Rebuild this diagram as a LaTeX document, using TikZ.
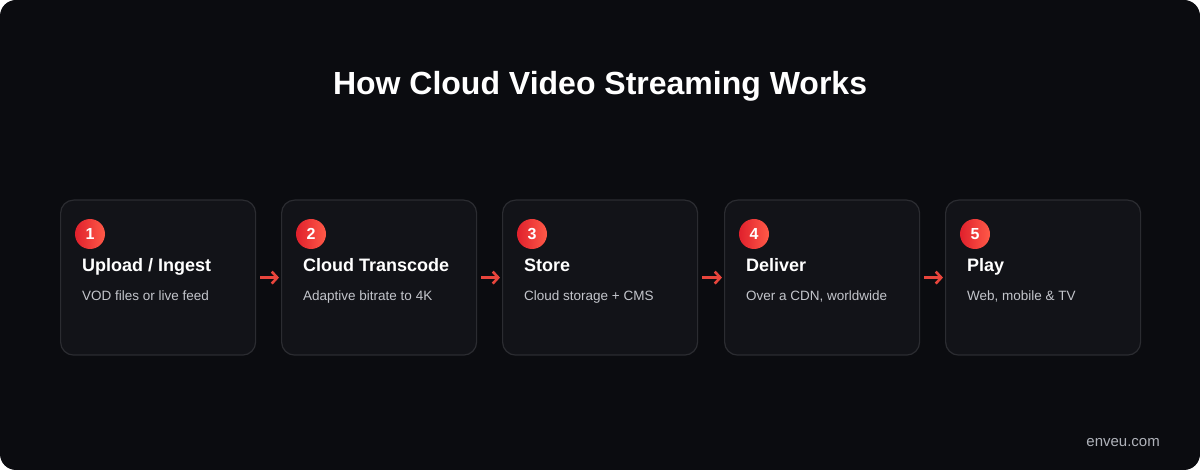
\documentclass[tikz,border=0pt]{standalone}
\usepackage{fontspec}
\setmainfont{Liberation Sans}
\usetikzlibrary{arrows.meta}
\definecolor{pagebg}{HTML}{0B0C10}
\definecolor{boxfill}{HTML}{121318}
\definecolor{boxline}{HTML}{2B2C31}
\definecolor{badgeleft}{HTML}{E0202C}
\definecolor{badgeright}{HTML}{FF5A48}
\definecolor{arrowred}{HTML}{E8453C}
\definecolor{desctext}{HTML}{C3C5CB}
\definecolor{foottext}{HTML}{B0B3BA}

\begin{document}
\begin{tikzpicture}[x=1pt,y=-1pt]
\tikzstyle{every node}+=[inner sep=0pt]
\tikzstyle{box}=[draw=boxline, fill=boxfill, line width=1.2pt, rounded corners=13pt, minimum width=195pt, minimum height=155pt, anchor=north west]
\tikzstyle{badge}=[circle, minimum size=30pt, left color=badgeleft, right color=badgeright, text=white, font=\fontsize{16}{16}\selectfont\bfseries]
\tikzstyle{steptitle}=[anchor=base west, text=white, font=\fontsize{18}{18}\selectfont\bfseries]
\tikzstyle{stepdesc}=[anchor=base west, text=desctext, font=\fontsize{13.5}{13.5}\selectfont]
\tikzstyle{flowarrow}=[arrowred, line width=2.6pt, shorten <=4pt, shorten >=2pt, -{Straight Barb[length=5.5pt,width=12pt]}]
\useasboundingbox (0,0) rectangle (1200,470);
\fill [white] (0,0) rectangle (1200,470);
\fill [pagebg, rounded corners=16pt] (0,0) rectangle (1200,470);
\node [anchor=base, text=white, font=\fontsize{32}{32}\selectfont\bfseries] (heading) at (600,95) {How Cloud Video Streaming Works};
% step boxes
\node [box] (box1) at (60,199.5) {};
\node [box] (box2) at (281,199.5) {};
\node [box] (box3) at (502,199.5) {};
\node [box] (box4) at (724,199.5) {};
\node [box] (box5) at (945,199.5) {};
% badges
\node [badge] (badge1) at (90,234) {1};
\node [badge] (badge2) at (311,234) {2};
\node [badge] (badge3) at (532,234) {3};
\node [badge] (badge4) at (754,234) {4};
\node [badge] (badge5) at (975,234) {5};
% texts
\node [steptitle] (title1) at (82,272) {Upload / Ingest};
\node [stepdesc] (desc1) at (82,301) {VOD files or live feed};
\node [steptitle] (title2) at (303,272) {Cloud Transcode};
\node [stepdesc] (desc2) at (303,301) {Adaptive bitrate to 4K};
\node [steptitle] (title3) at (524,272) {Store};
\node [stepdesc] (desc3) at (524,301) {Cloud storage + CMS};
\node [steptitle] (title4) at (746,272) {Deliver};
\node [stepdesc] (desc4) at (746,301) {Over a CDN, worldwide};
\node [steptitle] (title5) at (967,272) {Play};
\node [stepdesc] (desc5) at (967,301) {Web, mobile \& TV};
% arrows
\draw [flowarrow] (box1.east) -- (box2.west);
\draw [flowarrow] (box2.east) -- (box3.west);
\draw [flowarrow] (box3.east) -- (box4.west);
\draw [flowarrow] (box4.east) -- (box5.west);
\node [anchor=base east, text=foottext, font=\fontsize{15}{15}\selectfont] (site) at (1160,446) {enveu.com};
\end{tikzpicture}
\end{document}
